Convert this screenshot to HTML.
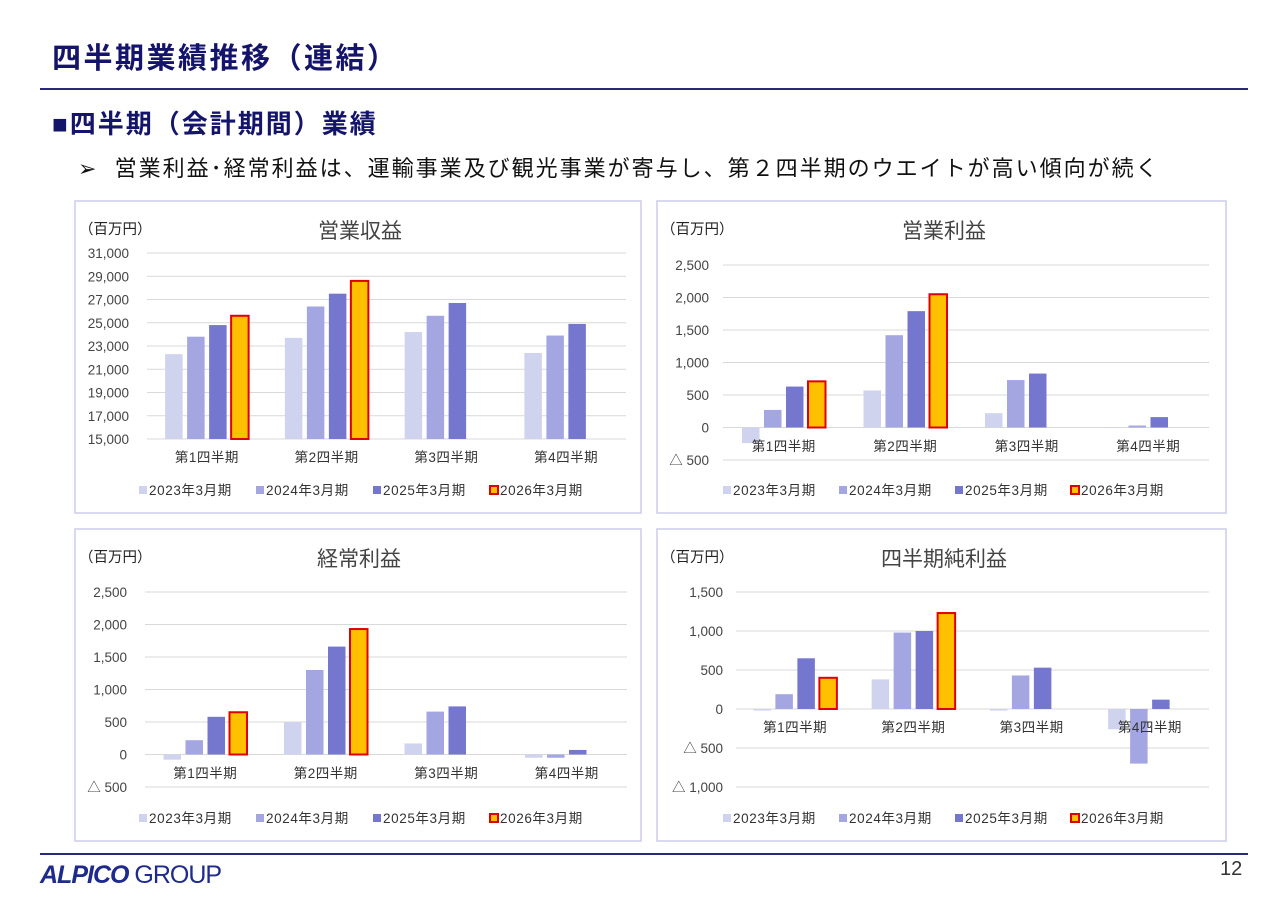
<!DOCTYPE html>
<html><head><meta charset="utf-8"><style>
body{margin:0;width:1280px;height:904px;background:#fff;position:relative;overflow:hidden;font-family:"Liberation Sans","Noto Sans CJK JP",sans-serif;}
.abs{position:absolute;white-space:nowrap;}
</style></head><body>
<div class="abs" style="left:52px;top:35px;font-size:29px;letter-spacing:2.5px;font-weight:bold;color:#14146a;">四半期業績推移（連結）</div>
<div class="abs" style="left:40px;top:88px;width:1208px;height:2px;background:#2a2a7a;"></div>
<div class="abs" style="left:52px;top:104px;font-size:26px;letter-spacing:2px;font-weight:bold;color:#14146a;">■四半期（会計期間）業績</div>
<div class="abs" style="left:78px;top:151px;font-size:22px;letter-spacing:2px;color:#111;">➢&nbsp;&nbsp;営業利益･経常利益は、運輸事業及び観光事業が寄与し、第２四半期のウエイトが高い傾向が続く</div>
<div class="abs" style="left:40px;top:853px;width:1208px;height:2px;background:#2a2a7a;"></div>
<div class="abs" style="left:40px;top:861px;font-size:25px;color:#1e2a8c;letter-spacing:-1px;"><b style="font-style:italic;">ALPICO</b> GROUP</div>
<div class="abs" style="left:1220px;top:858px;font-size:20px;color:#333;">12</div>
<svg id="charts" width="1280" height="904" style="position:absolute;left:0;top:0;"></svg>
<script>
const categories=["第1四半期","第2四半期","第3四半期","第4四半期"];
const seriesNames=["2023年3月期","2024年3月期","2025年3月期","2026年3月期"];
const revTicks=[15000,17000,19000,21000,23000,25000,27000,29000,31000];
const rev2023=[22300,23700,24200,22400];
const rev2024=[23800,26400,25600,23900];
const rev2025=[24800,27500,26700,24900];
const rev2026=[25600,28600,null,null];
const opTicks=[-500,0,500,1000,1500,2000,2500];
const op2023=[-240,570,220,0];
const op2024=[270,1420,730,30];
const op2025=[630,1790,830,160];
const op2026=[710,2050,null,null];
const ordTicks=[-500,0,500,1000,1500,2000,2500];
const ord2023=[-80,500,170,-50];
const ord2024=[220,1300,660,-50];
const ord2025=[580,1660,740,70];
const ord2026=[650,1930,null,null];
const netTicks=[-1000,-500,0,500,1000,1500];
const net2023=[-20,380,-20,-260];
const net2024=[190,980,430,-700];
const net2025=[650,1000,530,120];
const net2026=[400,1230,null,null];

const NS="http://www.w3.org/2000/svg";
const svg=document.getElementById('charts');
const fills=["#d0d3ee","#a3a6e0","#7577cf","#ffc000"];
function mk(tag,attrs,parent,text){const e=document.createElementNS(NS,tag);for(const k in attrs)e.setAttribute(k,attrs[k]);if(text!==undefined)e.textContent=text;parent.appendChild(e);return e;}
function fmt(v){const s=Math.abs(v).toLocaleString('en-US');return v<0?'△ '+s:s;}
function chart(cfg,series,ticks){
  const g=mk('g',{},svg);
  
  
  const p=mk('rect',{x:cfg.px,y:cfg.py,width:cfg.pw,height:cfg.ph,fill:'#fff',stroke:'#ccccea','stroke-width':1.5},g);
  
  
  const t=mk('text',{x:cfg.tx,y:cfg.py+37,'font-size':21,fill:'#444','text-anchor':'middle'},g,cfg.title);
  
  
  const u=mk('text',{x:cfg.px+4,y:cfg.py+33,'font-size':14.5,fill:'#222'},g,'（百万円）');
  
  
  const tmin=ticks[0],tmax=ticks[ticks.length-1];
  const Y=v=>cfg.yBot+(v-tmin)*(cfg.yTop-cfg.yBot)/(tmax-tmin);
  const gw=(cfg.x1-cfg.x0)/categories.length;
  ticks.forEach(v=>{
    const l=mk('line',{x1:cfg.x0,x2:cfg.x1,y1:Y(v),y2:Y(v),stroke:'#d9d9d9','stroke-width':1},g);
    
    
    const tl=mk('text',{x:cfg.lx,y:Y(v)+5,'font-size':13.5,fill:'#444','text-anchor':'end'},g,fmt(v));
    
    
  });
  const base=cfg.base!==undefined?cfg.base:0;
  series.forEach((arr,si)=>{
    arr.forEach((v,ci)=>{
      if(v===null)return;
      const cx=cfg.x0+gw*(ci+0.5);
      const x=cx-2*cfg.step+si*cfg.step+(cfg.step-cfg.bw)/2;
      const y1=Y(Math.max(v,base)),y2=Y(Math.min(v,base));
      const r=mk('rect',{x:x,y:y1,width:cfg.bw,height:Math.max(0.5,y2-y1),fill:fills[si]},g);
      if(si===3){r.setAttribute('stroke','#e00000');r.setAttribute('stroke-width',2);}
      
      
    });
  });
  categories.forEach((c,ci)=>{
    const cl=mk('text',{x:cfg.x0+gw*(ci+0.5),y:cfg.catY,'font-size':13.5,fill:'#333','text-anchor':'middle','letter-spacing':0.5},g,c);
    
    
  });
  seriesNames.forEach((s,si)=>{
    const lx=cfg.legX+si*cfg.legStep;
    const sq=mk('rect',{x:lx,y:cfg.legY-9,width:8,height:8,fill:fills[si]},g);
    if(si===3){sq.setAttribute('stroke','#e00000');sq.setAttribute('stroke-width',2);}
    
    
    const lt=mk('text',{x:lx+10,y:cfg.legY,'font-size':13.5,fill:'#333','letter-spacing':0.6},g,s);
    
    
  });
}
chart({name:'operating-revenue-chart',title:'営業収益',px:75,py:201,pw:566,ph:312,tx:360,x0:147,x1:626,yTop:253,yBot:439,lx:129,bw:17.5,step:22,catY:462,legX:139,legStep:117,legY:495,base:15000},[rev2023,rev2024,rev2025,rev2026],revTicks);
chart({name:'operating-profit-chart',title:'営業利益',px:657,py:201,pw:569,ph:312,tx:944,x0:723,x1:1209,yTop:265,yBot:460,lx:709,bw:17.5,step:22,catY:451,legX:723,legStep:116,legY:495},[op2023,op2024,op2025,op2026],opTicks);
chart({name:'ordinary-profit-chart',title:'経常利益',px:75,py:529,pw:566,ph:312,tx:359,x0:145,x1:627,yTop:592,yBot:787,lx:127,bw:17.5,step:22,catY:778,legX:139,legStep:117,legY:823},[ord2023,ord2024,ord2025,ord2026],ordTicks);
chart({name:'net-profit-chart',title:'四半期純利益',px:657,py:529,pw:569,ph:312,tx:944,x0:736,x1:1209,yTop:592,yBot:787,lx:723,bw:17.5,step:22,catY:732,legX:723,legStep:116,legY:823},[net2023,net2024,net2025,net2026],netTicks);
</script>
</body></html>
